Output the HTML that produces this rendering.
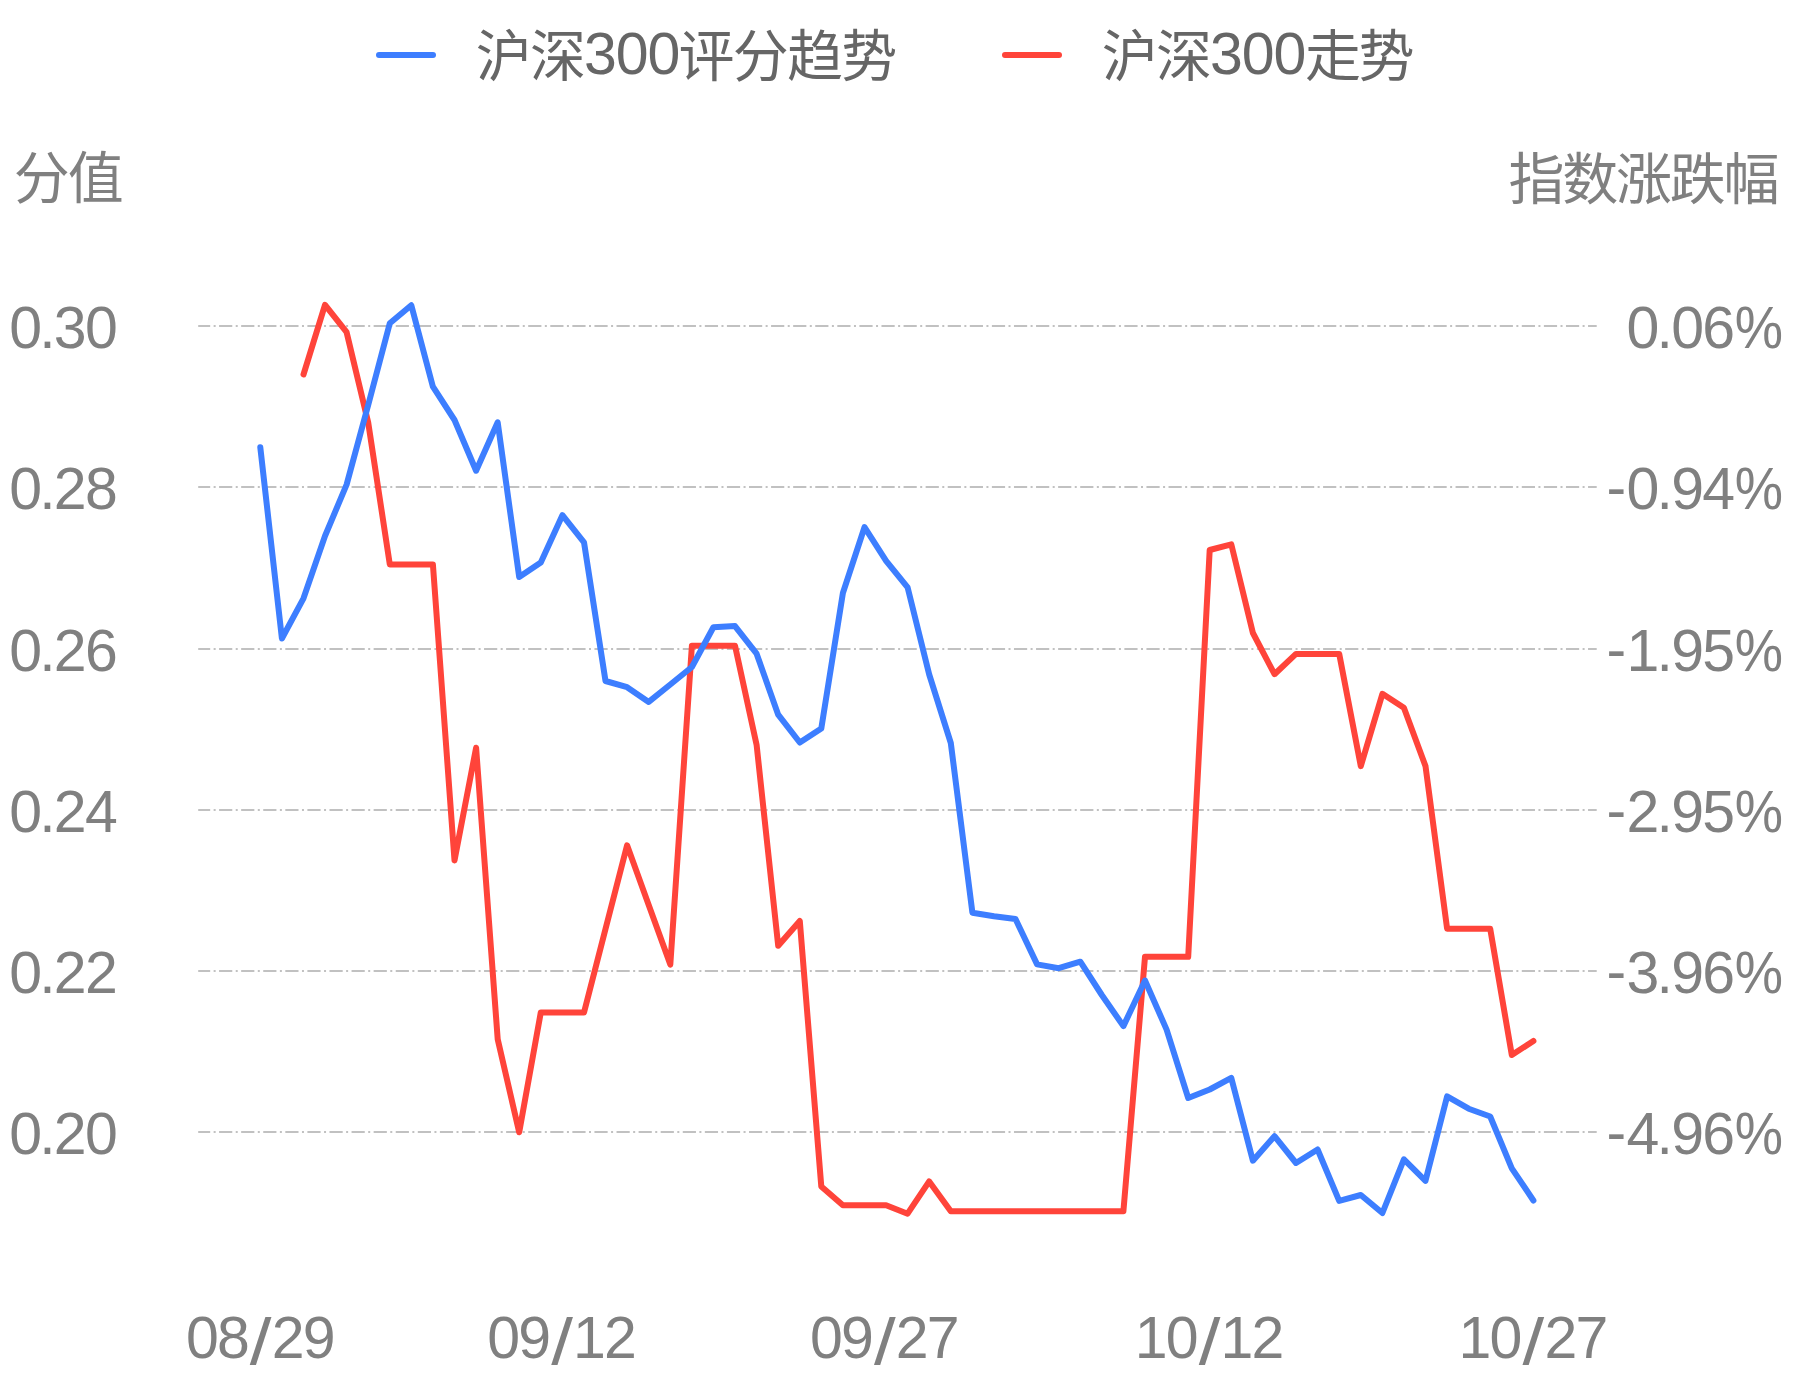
<!DOCTYPE html>
<html lang="zh-CN"><head><meta charset="utf-8"><title>沪深300评分趋势</title>
<style>
html,body{margin:0;padding:0;background:#fff;}
body{width:1793px;height:1380px;overflow:hidden;}
svg{display:block;}
text{font-family:"Liberation Sans","Noto Sans CJK SC",sans-serif;font-size:56px;fill:#808080;}
.d{font-size:59px;}
.legend text{fill:#666666;}
.grid line{stroke:#c1c1c1;stroke-width:2;stroke-dasharray:13.2 3.44 2 3.44;stroke-dashoffset:1.2;}
.ln{fill:none;stroke-width:6;stroke-linejoin:round;stroke-linecap:round;}
</style></head><body>
<svg width="1793" height="1380" viewBox="0 0 1793 1380">
<rect width="1793" height="1380" fill="#ffffff"/>
<g class="legend">
<line x1="379" y1="55" x2="433" y2="55" stroke="#3d7eff" stroke-width="6" stroke-linecap="round"/>
<text id="leg1"><tspan x="475.8 530" y="76.0">沪深</tspan><tspan class="d" x="584 615.8 647.6" y="73.5">300</tspan><tspan x="678.6 732.8 787 841.2" y="76.0">评分趋势</tspan></text>
<line x1="1005" y1="55" x2="1059" y2="55" stroke="#ff443a" stroke-width="6" stroke-linecap="round"/>
<text id="leg2"><tspan x="1101.8 1156" y="76.0">沪深</tspan><tspan class="d" x="1210 1241.8 1273.6" y="73.5">300</tspan><tspan x="1305 1358.6" y="76.0">走势</tspan></text>
</g>
<text id="axl" x="13.7 67.7" y="198.3">分值</text>
<text id="axr" x="1508.6 1562.35 1616.1 1669.85 1723.6" y="199.0">指数涨跌幅</text>
<g class="grid">
<line x1="198.2" y1="326" x2="1596.7" y2="326"/>
<line x1="198.2" y1="487" x2="1596.7" y2="487"/>
<line x1="198.2" y1="649" x2="1596.7" y2="649"/>
<line x1="198.2" y1="810" x2="1596.7" y2="810"/>
<line x1="198.2" y1="971" x2="1596.7" y2="971"/>
<line x1="198.2" y1="1132" x2="1596.7" y2="1132"/>
</g>
<g class="yl">
<text class="d" id="yl0" x="9.3 39.2 53.8 85.1" y="347.8">0.30</text>
<text class="d" id="yl1" x="9.3 39.2 53.8 85.1" y="508.8">0.28</text>
<text class="d" id="yl2" x="9.3 39.2 53.8 85.1" y="670.8">0.26</text>
<text class="d" id="yl3" x="9.3 39.2 53.8 85.1" y="831.8">0.24</text>
<text class="d" id="yl4" x="9.3 39.2 53.8 85.1" y="992.8">0.22</text>
<text class="d" id="yl5" x="9.3 39.2 53.8 85.1" y="1153.8">0.20</text>
</g>
<g class="yr">
<text class="d" id="yr0" x="1626.6 1656.6 1671.2 1702.2" y="347.8 347.8 347.8 347.8">0.06<tspan y="347.8" x="1734.8" textLength="48.25" lengthAdjust="spacingAndGlyphs">%</tspan></text>
<text class="d" id="yr1" x="1606.43 1626.6 1656.6 1671.2 1702.2" y="507.4 508.8 508.8 508.8 508.8">-0.94<tspan y="508.8" x="1734.8" textLength="48.25" lengthAdjust="spacingAndGlyphs">%</tspan></text>
<text class="d" id="yr2" x="1606.43 1626.6 1656.6 1671.2 1702.2" y="669.4 670.8 670.8 670.8 670.8">-1.95<tspan y="670.8" x="1734.8" textLength="48.25" lengthAdjust="spacingAndGlyphs">%</tspan></text>
<text class="d" id="yr3" x="1606.43 1626.6 1656.6 1671.2 1702.2" y="830.4 831.8 831.8 831.8 831.8">-2.95<tspan y="831.8" x="1734.8" textLength="48.25" lengthAdjust="spacingAndGlyphs">%</tspan></text>
<text class="d" id="yr4" x="1606.43 1626.6 1656.6 1671.2 1702.2" y="991.4 992.8 992.8 992.8 992.8">-3.96<tspan y="992.8" x="1734.8" textLength="48.25" lengthAdjust="spacingAndGlyphs">%</tspan></text>
<text class="d" id="yr5" x="1606.43 1626.6 1656.6 1671.2 1702.2" y="1152.4 1153.8 1153.8 1153.8 1153.8">-4.96<tspan y="1153.8" x="1734.8" textLength="48.25" lengthAdjust="spacingAndGlyphs">%</tspan></text>
</g>
<g class="xl">
<text class="d" id="xl0" x="185.9 216.9" y="1357.7">08<tspan font-size="65" x="249.86" y="1364.2" textLength="21.68" lengthAdjust="spacingAndGlyphs">/</tspan><tspan x="271.7 302.7" y="1357.7">29</tspan></text>
<text class="d" id="xl1" x="487.2 518.2" y="1357.7">09<tspan font-size="65" x="551.16" y="1364.2" textLength="21.68" lengthAdjust="spacingAndGlyphs">/</tspan><tspan x="573 604" y="1357.7">12</tspan></text>
<text class="d" id="xl2" x="810.05 841.05" y="1357.7">09<tspan font-size="65" x="874.01" y="1364.2" textLength="21.68" lengthAdjust="spacingAndGlyphs">/</tspan><tspan x="895.85 926.85" y="1357.7">27</tspan></text>
<text class="d" id="xl3" x="1134.8 1165.8" y="1357.7">10<tspan font-size="65" x="1198.76" y="1364.2" textLength="21.68" lengthAdjust="spacingAndGlyphs">/</tspan><tspan x="1220.6 1251.6" y="1357.7">12</tspan></text>
<text class="d" id="xl4" x="1458.6 1489.6" y="1357.7">10<tspan font-size="65" x="1522.56" y="1364.2" textLength="21.68" lengthAdjust="spacingAndGlyphs">/</tspan><tspan x="1544.4 1575.4" y="1357.7">27</tspan></text>
</g>
<polyline class="ln" stroke="#ff443a" points="303.5,374.5 325.0,304.8 346.6,332.2 368.2,422.5 389.8,564.4 411.3,564.4 432.9,564.4 454.5,860.4 476.1,747.8 497.7,1039.2 519.2,1132.3 540.8,1012.4 562.4,1012.4 584.0,1012.4 605.5,928.9 627.1,845.3 648.7,905.0 670.3,964.6 691.9,645.7 713.4,645.7 735.0,645.7 756.6,744.8 778.2,945.8 799.8,921.0 821.3,1186.4 842.9,1205.2 864.5,1205.2 886.1,1205.2 907.6,1213.7 929.2,1181.4 950.8,1211.3 972.4,1211.3 994.0,1211.3 1015.5,1211.3 1037.1,1211.3 1058.7,1211.3 1080.3,1211.3 1101.8,1211.3 1123.4,1211.3 1145.0,956.8 1166.6,956.8 1188.2,956.8 1209.7,550.0 1231.3,544.4 1252.9,633.0 1274.5,674.2 1296.0,653.9 1317.6,653.9 1339.2,653.9 1360.8,766.1 1382.4,693.8 1403.9,707.8 1425.5,766.1 1447.1,928.7 1468.7,928.7 1490.2,928.7 1511.8,1055.0 1533.4,1041.0"/>
<polyline class="ln" stroke="#3d7eff" points="260.3,447.3 281.9,638.5 303.5,598.3 325.0,536.0 346.6,484.6 368.2,405.0 389.8,323.2 411.3,305.3 432.9,386.7 454.5,420.0 476.1,470.7 497.7,422.3 519.2,577.0 540.8,562.4 562.4,515.2 584.0,542.3 605.5,681.0 627.1,687.2 648.7,701.9 670.3,684.5 691.9,667.0 713.4,627.3 735.0,626.1 756.6,653.7 778.2,714.7 799.8,742.5 821.3,728.5 842.9,593.0 864.5,527.2 886.1,560.8 907.6,587.4 929.2,674.5 950.8,743.0 972.4,912.7 994.0,916.2 1015.5,919.0 1037.1,964.4 1058.7,968.2 1080.3,961.7 1101.8,995.0 1123.4,1026.1 1145.0,980.5 1166.6,1029.6 1188.2,1098.0 1209.7,1089.5 1231.3,1077.9 1252.9,1160.7 1274.5,1136.2 1296.0,1163.0 1317.6,1149.5 1339.2,1200.9 1360.8,1195.0 1382.4,1213.0 1403.9,1159.3 1425.5,1180.8 1447.1,1096.4 1468.7,1108.7 1490.2,1116.5 1511.8,1168.3 1533.4,1200.5"/>
</svg>
</body></html>
